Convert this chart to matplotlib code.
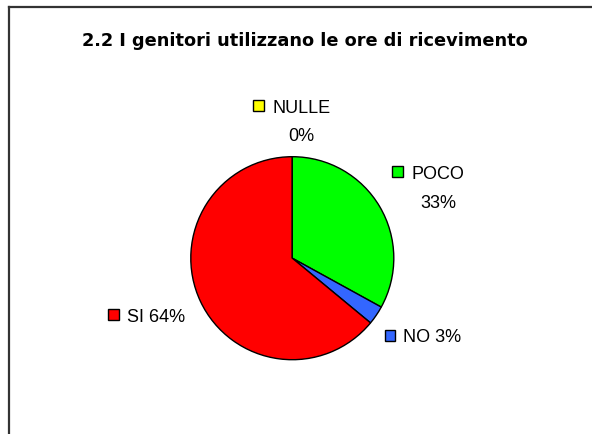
import matplotlib
matplotlib.use('Agg')
import matplotlib.pyplot as plt
from matplotlib.lines import Line2D
from matplotlib.patches import Rectangle

plt.rcParams['font.family'] = ['Liberation Sans', 'DejaVu Sans']

# dati
categorie = ['POCO', 'NO', 'SI', 'NULLE']
valori = [33, 3, 64, 0]
colori = ['#00FF00', '#3366FF', '#FF0000', '#FFFF00']
titolo = '2.2 I genitori utilizzano le ore di ricevimento'

W, H = 592, 435
fig = plt.figure(figsize=(W / 100, H / 100), dpi=100)


def px(x, y):
    # pixel (origine in alto a sinistra) -> frazione della figura
    return x / W, 1 - y / H


# cornice (si vedono solo lato sinistro e superiore)
fig.add_artist(Line2D([9 / W, 9 / W], [-0.1, 1 - 8 / H], transform=fig.transFigure,
                      color='#333333', lw=1.6))
fig.add_artist(Line2D([9 / W, 1.1], [1 - 8 / H, 1 - 8 / H], transform=fig.transFigure,
                      color='#333333', lw=1.6))

fig.text(*px(305, 45.5), titolo, ha='center', va='baseline', fontsize=12.8,
         fontweight='bold', family=['DejaVu Sans'])

# torta
cx, cy, r = 292.3, 259.2, 101.5
ax = fig.add_axes([(cx - r) / W, (H - cy - r) / H, 2 * r / W, 2 * r / H])
wedges, _ = ax.pie(valori, colors=colori, startangle=90, counterclock=False,
                   wedgeprops=dict(edgecolor='black', linewidth=1))
for w in wedges:
    w.set_clip_on(False)
ax.set_xlim(-1, 1)
ax.set_ylim(-1, 1)
ax.axis('off')

# etichette stile Excel: quadratino colorato + testo
perc = {c: '%d%%' % v for c, v in zip(categorie, valori)}
col = dict(zip(categorie, colori))
etichette = [
    # categoria, quadratino (x, y), testo1 (x, baseline), testo2 (x centro, baseline) o None
    ('NULLE', (258, 106.5), (272, 113), perc['NULLE'], (301, 141.5)),
    ('POCO', (397.5, 172.5), (411.7, 179), perc['POCO'], (438, 208)),
    ('SI', (113.5, 315.5), (126.7, 322), None, None),
    ('NO', (390, 336), (403, 342.5), None, None),
]
s = 11
for cat, (qx, qy), (tx, ty), t2, pos2 in etichette:
    x0, y0 = px(qx - s / 2, qy + s / 2)
    fig.add_artist(Rectangle((x0, y0), s / W, s / H, transform=fig.transFigure,
                             facecolor=col[cat], edgecolor='black', lw=1))
    if t2 is None:
        testo = cat + ' ' + perc[cat]
    else:
        testo = cat
    fig.text(*px(tx, ty), testo, ha='left', va='baseline', fontsize=13)
    if t2 is not None:
        fig.text(*px(*pos2), t2, ha='center', va='baseline', fontsize=13)

fig.savefig('out.png', dpi=100)
